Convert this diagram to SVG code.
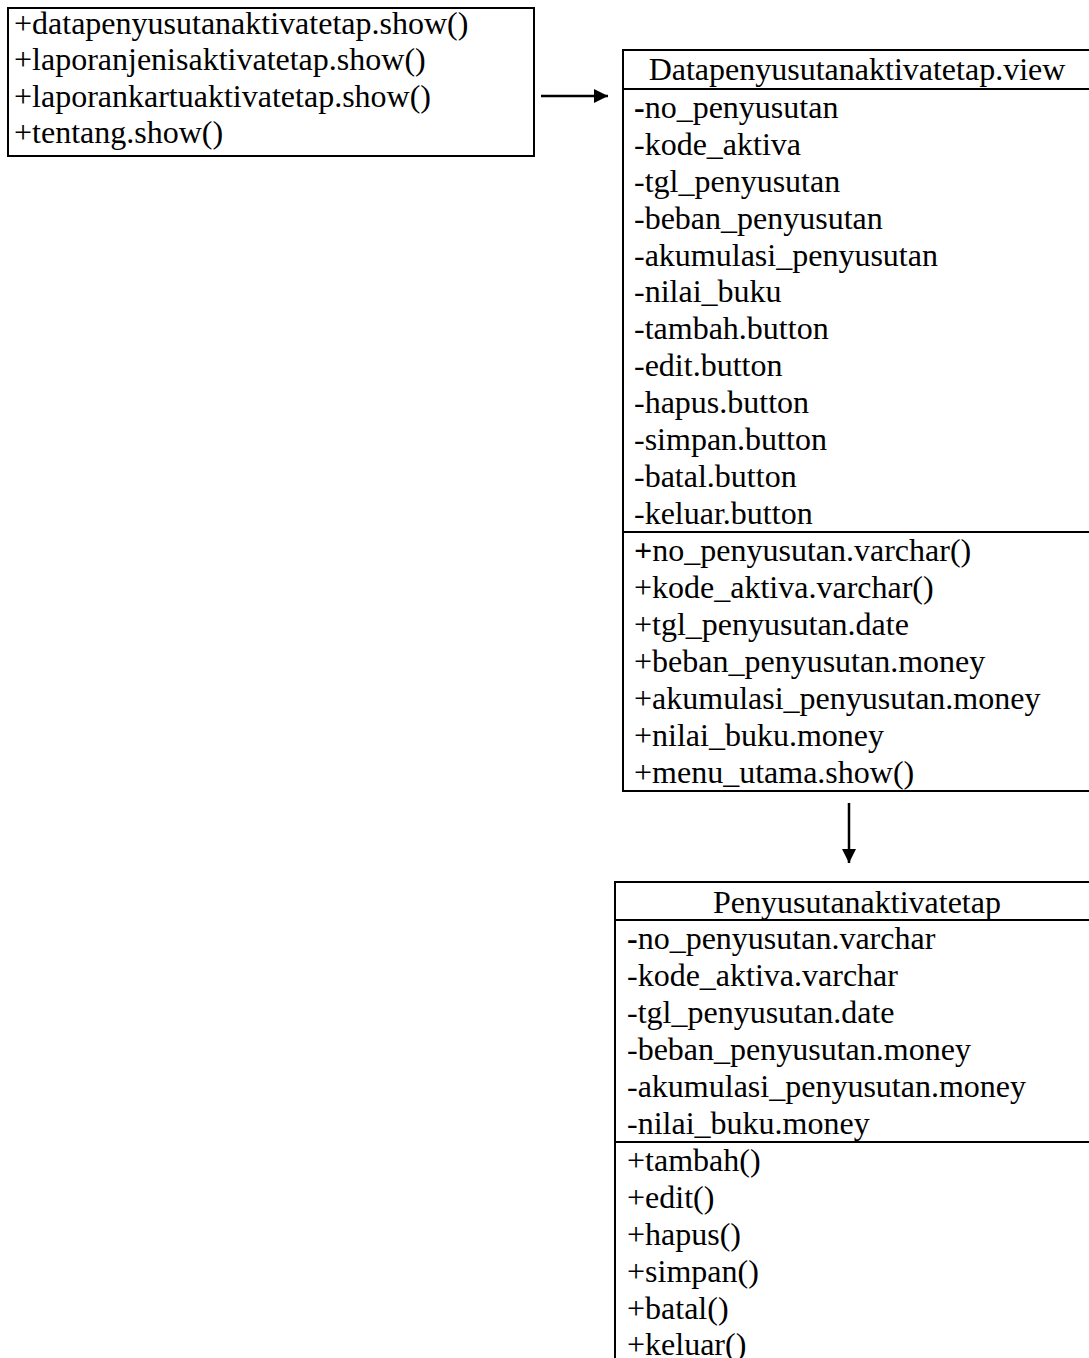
<svg xmlns="http://www.w3.org/2000/svg" width="1089" height="1358" viewBox="0 0 1089 1358">
<style>
.box{fill:#fff;stroke:#000;stroke-width:2}
.ln{stroke:#000;stroke-width:2;fill:none}
.cn{stroke:#000;stroke-width:2.5;fill:none}
text{font-family:"Liberation Serif","Times New Roman",serif;font-size:32px;fill:#000}
.hd{text-anchor:middle}
.b{font-weight:bold}
</style>
<defs>
<marker id="ah" viewBox="0 0 10 10" refX="10" refY="5" markerWidth="14" markerHeight="14" markerUnits="userSpaceOnUse" orient="auto"><path d="M0,0 L10,5 L0,10 Z" fill="#000"/></marker>
</defs>
<rect width="1089" height="1358" fill="#fff"/>
<g id="menu">
<rect class="box" x="8" y="8" width="526" height="148"/>
<text x="14" y="34">+datapenyusutanaktivatetap.show()</text>
<text x="14" y="70">+laporanjenisaktivatetap.show()</text>
<text x="14" y="107">+laporankartuaktivatetap.show()</text>
<text x="14" y="143">+tentang.show()</text>
</g>
<g id="view">
<rect class="box" x="623" y="50" width="480" height="741"/>
<line class="ln" x1="623" y1="89" x2="1100" y2="89"/>
<line class="ln" x1="623" y1="532" x2="1100" y2="532"/>
<text class="hd" x="857" y="80">Datapenyusutanaktivatetap.view</text>
<text x="634" y="118"><tspan class="b">-</tspan>no_penyusutan</text>
<text x="634" y="155">-kode_aktiva</text>
<text x="634" y="192">-tgl_penyusutan</text>
<text x="634" y="229">-beban_penyusutan</text>
<text x="634" y="266">-akumulasi_penyusutan</text>
<text x="634" y="302">-nilai_buku</text>
<text x="634" y="339">-tambah.button</text>
<text x="634" y="376">-edit.button</text>
<text x="634" y="413">-hapus.button</text>
<text x="634" y="450">-simpan.button</text>
<text x="634" y="487">-batal.button</text>
<text x="634" y="524">-keluar.button</text>
<text x="634" y="561"><tspan class="b">+</tspan>no_penyusutan.varchar()</text>
<text x="634" y="598">+kode_aktiva.varchar()</text>
<text x="634" y="635">+tgl_penyusutan.date</text>
<text x="634" y="672">+beban_penyusutan.money</text>
<text x="634" y="709">+akumulasi_penyusutan.money</text>
<text x="634" y="746">+nilai_buku.money</text>
<text x="634" y="783">+menu_utama.show()</text>
</g>
<g id="entity">
<rect class="box" x="615" y="882" width="490" height="500"/>
<line class="ln" x1="615" y1="920" x2="1100" y2="920"/>
<line class="ln" x1="615" y1="1142" x2="1100" y2="1142"/>
<text class="hd" x="857" y="913">Penyusutanaktivatetap</text>
<text x="627" y="949"><tspan class="b">-</tspan>no_penyusutan.varchar</text>
<text x="627" y="986">-kode_aktiva.varchar</text>
<text x="627" y="1023">-tgl_penyusutan.date</text>
<text x="627" y="1060">-beban_penyusutan.money</text>
<text x="627" y="1097">-akumulasi_penyusutan.money</text>
<text x="627" y="1134">-nilai_buku.money</text>
<text x="627" y="1171">+tambah()</text>
<text x="627" y="1208">+edit()</text>
<text x="627" y="1245">+hapus()</text>
<text x="627" y="1282">+simpan()</text>
<text x="627" y="1319">+batal()</text>
<text x="627" y="1355">+keluar()</text>
</g>
<g id="connectors">
<line class="cn" x1="541" y1="96" x2="608" y2="96" marker-end="url(#ah)"/>
<line class="cn" x1="849" y1="803" x2="849" y2="863" marker-end="url(#ah)"/>
</g>
</svg>
